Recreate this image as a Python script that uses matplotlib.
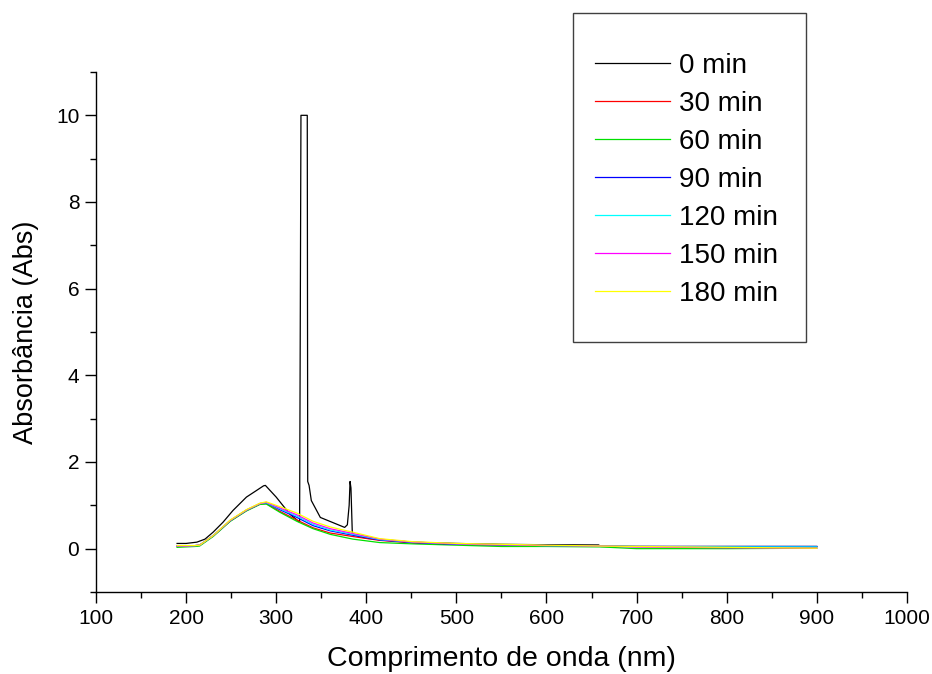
import matplotlib.pyplot as plt
import matplotlib.patches as mpatches
from matplotlib.ticker import MultipleLocator

plt.rcParams['font.family'] = ['Liberation Sans', 'DejaVu Sans']

# espectros UV-Vis ao longo do tempo
labels = ['0 min', '30 min', '60 min', '90 min', '120 min', '150 min', '180 min']
colors = ['black', 'red', '#00e000', 'blue', 'cyan', 'magenta', 'yellow']

wl_0 = [190, 200, 212, 221, 230, 241, 252, 267, 278, 286, 288, 300, 315, 326,
        327.5, 334.5, 335, 336.5, 339, 349, 376, 379, 381, 382, 383, 384.5, 386,
        400, 450, 500, 525, 550, 600, 658, 660, 700, 800, 900]
abs_0 = [0.12, 0.12, 0.15, 0.22, 0.38, 0.61, 0.88, 1.19, 1.34, 1.45, 1.46, 1.19, 0.80, 0.61,
         10.0, 10.0, 1.55, 1.46, 1.11, 0.72, 0.49, 0.55, 1.0, 1.55, 1.4, 0.35, 0.32,
         0.24, 0.15, 0.12, 0.11, 0.10, 0.09, 0.085, 0.05, 0.05, 0.05, 0.05]

wl = [190, 200, 210, 215, 230, 249, 267, 282, 289, 304, 323, 341, 360, 385, 415, 452,
      500, 550, 600, 660, 700, 800, 900]
abs_30 = [0.06, 0.06, 0.07, 0.08, 0.29, 0.64, 0.88, 1.03, 1.04, 0.86, 0.66, 0.48, 0.36, 0.28,
          0.19, 0.13, 0.10, 0.08, 0.07, 0.06, 0.05, 0.04, 0.04]
abs_60 = [0.03, 0.04, 0.05, 0.06, 0.28, 0.63, 0.87, 1.02, 1.03, 0.84, 0.63, 0.46, 0.33, 0.22,
          0.14, 0.11, 0.08, 0.05, 0.05, 0.04, 0.00, 0.00, 0.01]
abs_90 = [0.06, 0.06, 0.07, 0.08, 0.30, 0.65, 0.89, 1.04, 1.06, 0.90, 0.72, 0.53, 0.41, 0.31,
          0.20, 0.14, 0.10, 0.09, 0.08, 0.06, 0.05, 0.05, 0.05]
abs_120 = [0.06, 0.06, 0.07, 0.08, 0.30, 0.65, 0.89, 1.04, 1.06, 0.92, 0.75, 0.56, 0.43, 0.33,
           0.21, 0.15, 0.11, 0.09, 0.07, 0.06, 0.05, 0.04, 0.04]
abs_150 = [0.06, 0.06, 0.07, 0.08, 0.30, 0.65, 0.89, 1.04, 1.07, 0.94, 0.78, 0.59, 0.46, 0.35,
           0.22, 0.15, 0.11, 0.09, 0.07, 0.06, 0.04, 0.02, 0.01]
abs_180 = [0.07, 0.07, 0.07, 0.08, 0.30, 0.66, 0.90, 1.05, 1.08, 0.97, 0.82, 0.63, 0.50, 0.38,
           0.23, 0.16, 0.12, 0.10, 0.08, 0.06, 0.05, 0.03, 0.01]

series = [(wl_0, abs_0), (wl, abs_30), (wl, abs_60), (wl, abs_90),
          (wl, abs_120), (wl, abs_150), (wl, abs_180)]

fig = plt.figure(figsize=(9.32, 6.74), dpi=100)
ax = fig.add_axes([0.103, 0.1217, 0.870, 0.7715])

handles = []
for (x, y), c, lab in zip(series, colors, labels):
    h, = ax.plot(x, y, color=c, lw=0.9, label=lab)
    handles.append(h)

ax.set_xlim(100, 1000)
ax.set_ylim(-1, 11)
ax.xaxis.set_major_locator(MultipleLocator(100))
ax.xaxis.set_minor_locator(MultipleLocator(50))
ax.yaxis.set_major_locator(MultipleLocator(2))
ax.yaxis.set_minor_locator(MultipleLocator(1))
for s in ['top', 'right']:
    ax.spines[s].set_visible(False)
for s in ['left', 'bottom']:
    ax.spines[s].set_linewidth(1.0)
ax.tick_params(which='major', direction='out', length=8, width=1, labelsize=15, pad=4)
ax.tick_params(which='minor', direction='out', length=4.5, width=1)

ax.set_xlabel('Comprimento de onda (nm)', fontsize=20.5, labelpad=13)
ax.set_ylabel('Absorbância (Abs)', fontsize=19.5, labelpad=12)

leg = fig.legend(handles=handles, loc='upper left', bbox_to_anchor=(595 / 932, 1 - 53 / 674),
                 frameon=False, fontsize=20, handlelength=2.7, handletextpad=0.32,
                 labelspacing=0.43, borderpad=0, borderaxespad=0)
box = mpatches.Rectangle((573 / 932, 1 - 342 / 674), (806 - 573) / 932, (342 - 13) / 674,
                         transform=fig.transFigure, fill=False, edgecolor='#404040', lw=1.0)
fig.patches.append(box)

fig.savefig('out.png', dpi=100)
